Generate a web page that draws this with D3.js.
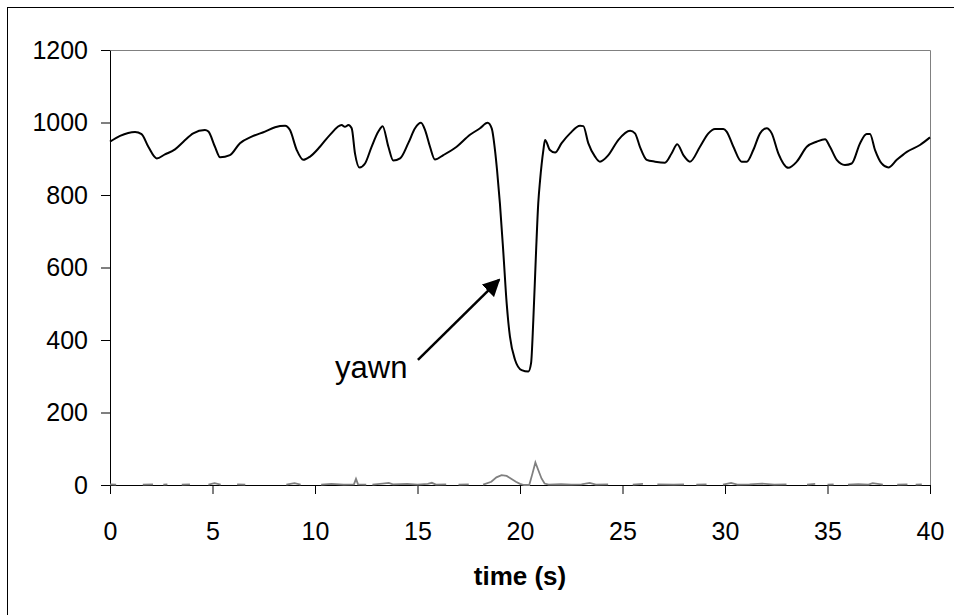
<!DOCTYPE html>
<head>
<meta charset="utf-8">
<script src="https://cdn.jsdelivr.net/npm/d3@7"></script>
<style>
  body { margin: 0; background: #fff; }
  text { font-family: "Liberation Sans", Arial, sans-serif; }
  .axis .domain { stroke: #000; }
  .axis line { stroke: #000; }
</style>
</head>
<body>
<svg width="954" height="615"></svg>

<script>
  // breathing signal (black)
  var sigTime = [0.0, 0.49, 1.22, 1.54, 1.87, 2.28, 2.68, 3.17, 3.58, 4.06, 4.63, 4.80, 5.12, 5.37, 5.85,
    6.34, 6.91, 7.56, 8.05, 8.54, 8.78, 9.11, 9.43, 9.76, 10.24, 10.73, 11.30, 11.46, 11.63, 11.79,
    11.95, 12.17, 12.44, 12.76, 13.09, 13.30, 13.58, 13.82, 14.15, 14.55, 14.88, 15.17, 15.37, 15.61,
    15.85, 16.26, 16.91, 17.56, 18.05, 18.42, 18.62, 18.78, 18.88, 19.02, 19.19, 19.35, 19.51, 19.76,
    20.08, 20.41, 20.54, 20.65, 20.78, 20.89, 20.98, 21.14, 21.22, 21.46, 21.71, 22.03, 22.44, 22.93,
    23.09, 23.33, 23.66, 23.90, 24.31, 24.80, 25.37, 25.61, 25.85, 26.18, 26.59, 27.07, 27.40, 27.67,
    27.97, 28.29, 28.78, 29.19, 29.51, 29.92, 30.08, 30.41, 30.81, 31.06, 31.38, 31.71, 32.03, 32.28,
    32.60, 33.09, 33.50, 33.99, 34.47, 34.88, 35.12, 35.45, 35.85, 36.18, 36.59, 36.91, 37.07, 37.32,
    37.64, 37.97, 38.38, 38.87, 39.51, 40.0];
  var sigValue = [947, 963, 974, 968, 933, 901, 912, 926, 947, 970, 979, 975, 933, 904, 910,
    943, 961, 975, 987, 991, 979, 924, 897, 906, 933, 966, 993, 988, 993, 984,
    915, 876, 887, 933, 975, 990, 933, 895, 901, 943, 984, 999, 979, 933,
    898, 910, 933, 966, 984, 999, 984, 924, 869, 777, 639, 501, 409, 345,
    317, 313, 336, 455, 639, 777, 841, 924, 952, 924, 917, 943, 970, 991,
    990, 943, 906, 892, 910, 952, 977, 970, 933, 897, 892, 889, 915, 940,
    910, 892, 933, 970, 982, 982, 975, 933, 892, 892, 924, 970, 984, 970,
    915, 875, 892, 933, 947, 954, 933, 897, 883, 887, 943, 968, 968, 924,
    887, 876, 897, 919, 938, 959];

  // second trace (grey), mostly near zero; null = missing samples
  var auxTime = [0.0, 0.3, 0.35, 1.6, 2.1, 2.15, 2.6, 2.8, 2.85, 3.5, 3.9, 3.95, 4.8, 5.1, 5.4, 5.45,
    6.2, 6.6, 6.65, 8.6, 9.0, 9.3, 9.35, 10.3, 10.8, 11.4, 11.9, 12.0, 12.1, 12.5, 12.55,
    12.8, 13.3, 13.6, 13.8, 14.5, 15.0, 15.5, 15.7, 15.9, 16.4, 16.45, 17.0, 17.5, 17.55,
    18.2, 18.6, 18.85, 19.1, 19.35, 19.55, 19.8, 20.0, 20.2, 20.45, 20.6, 20.75, 20.9, 21.05, 21.2,
    21.4, 22.0, 22.5, 23.0, 23.4, 23.7, 24.3, 24.35, 25.5, 26.0, 26.05, 26.7, 27.5, 28.0, 28.05,
    28.6, 29.1, 29.15, 29.9, 30.3, 30.6, 31.2, 31.8, 32.4, 33.0, 33.05, 34.0, 34.4, 34.45,
    35.0, 35.3, 35.35, 36.0, 36.5, 37.0, 37.2, 37.7, 37.75, 38.4, 38.9, 38.95, 39.3, 39.6];
  var auxValue = [2, 1, null, 1, 2, null, 1, 2, null, 1, 2, null, 1, 5, 1, null,
    2, 1, null, 1, 5, 1, null, 1, 3, 1, 2, 17, 2, 1, null,
    1, 4, 6, 2, 3, 1, 3, 6, 1, 2, null, 1, 2, null,
    1, 9, 21, 27, 25, 18, 9, 3, 0, 0, 30, 62, 40, 18, 4,
    1, 2, 1, 2, 6, 1, 2, null, 1, 3, null, 2, 1, 2, null,
    1, 2, null, 1, 6, 1, 2, 4, 1, 2, null, 1, 3, null,
    1, 2, null, 1, 2, 1, 5, 1, null, 1, 2, null, 1, 2];

  var xTicks = [0, 5, 10, 15, 20, 25, 30, 35, 40];
  var yTicks = [0, 200, 400, 600, 800, 1000, 1200];

  var svg = d3.select("svg"),
      margin = {top: 50, right: 24, bottom: 130, left: 110},
      width = 930 - margin.left,
      height = 485 - margin.top;

  // outer chart frame (only top/left fall inside the window)
  svg.append("rect")
    .attr("x", 7.5).attr("y", 7.5)
    .attr("width", 960).attr("height", 620)
    .attr("fill", "none").attr("stroke", "#000");

  var g = svg.append("g").attr("transform", "translate(" + margin.left + "," + margin.top + ")");

  var x = d3.scaleLinear().domain([0, 40]).range([0, width]);
  var y = d3.scaleLinear().domain([0, 1200]).range([height, 0]);

  // plot-area border, grey
  g.append("path")
    .attr("d", "M0.5,0.5H" + (width + 0.5) + "V" + height)
    .attr("fill", "none").attr("stroke", "#808080");

  g.append("g")
    .attr("class", "axis")
    .attr("transform", "translate(0," + height + ")")
    .call(d3.axisBottom(x).tickValues(xTicks).tickFormat(d3.format("d"))
      .tickSize(9).tickPadding(28).tickSizeOuter(0))
    .selectAll("text").attr("font-size", 25).attr("fill", "#000");

  g.append("g")
    .attr("class", "axis")
    .call(d3.axisLeft(y).tickValues(yTicks).tickFormat(d3.format("d"))
      .tickSize(9).tickPadding(13).tickSizeOuter(0))
    .selectAll("text").attr("font-size", 25).attr("fill", "#000");

  g.selectAll(".axis text").attr("font-family", "'Liberation Sans', Arial, sans-serif");

  var aux = auxTime.map(function(t, i) { return {t: t, v: auxValue[i]}; });
  var sig = sigTime.map(function(t, i) { return {t: t, v: sigValue[i]}; });

  g.append("path")
    .datum(aux)
    .attr("fill", "none")
    .attr("stroke", "#808080")
    .attr("stroke-width", 1.8)
    .attr("d", d3.line()
      .defined(function(d) { return d.v !== null; })
      .x(function(d) { return x(d.t); })
      .y(function(d) { return y(d.v); }));

  g.append("path")
    .datum(sig)
    .attr("fill", "none")
    .attr("stroke", "#000")
    .attr("stroke-width", 2)
    .attr("stroke-linejoin", "round")
    .attr("d", d3.line()
      .curve(d3.curveMonotoneX)
      .x(function(d) { return x(d.t); })
      .y(function(d) { return y(d.v); }));

  // annotation
  svg.append("defs").append("marker")
    .attr("id", "head")
    .attr("viewBox", "0 0 10 10")
    .attr("refX", 9).attr("refY", 5)
    .attr("markerWidth", 7).attr("markerHeight", 7)
    .attr("markerUnits", "strokeWidth")
    .attr("orient", "auto")
    .append("path").attr("d", "M0,0L10,5L0,10z").attr("fill", "#000");

  g.append("line")
    .attr("x1", x(15.02)).attr("y1", y(345))
    .attr("x2", x(18.98)).attr("y2", y(566))
    .attr("stroke", "#000").attr("stroke-width", 2.5)
    .attr("marker-end", "url(#head)");

  g.append("text")
    .attr("x", x(10.98)).attr("y", y(295))
    .attr("font-size", 31)
    .text("yawn");

  g.append("text")
    .attr("x", width / 2).attr("y", height + 100)
    .attr("text-anchor", "middle")
    .attr("font-size", 26)
    .attr("font-weight", "bold")
    .text("time (s)");
</script>
</body>
